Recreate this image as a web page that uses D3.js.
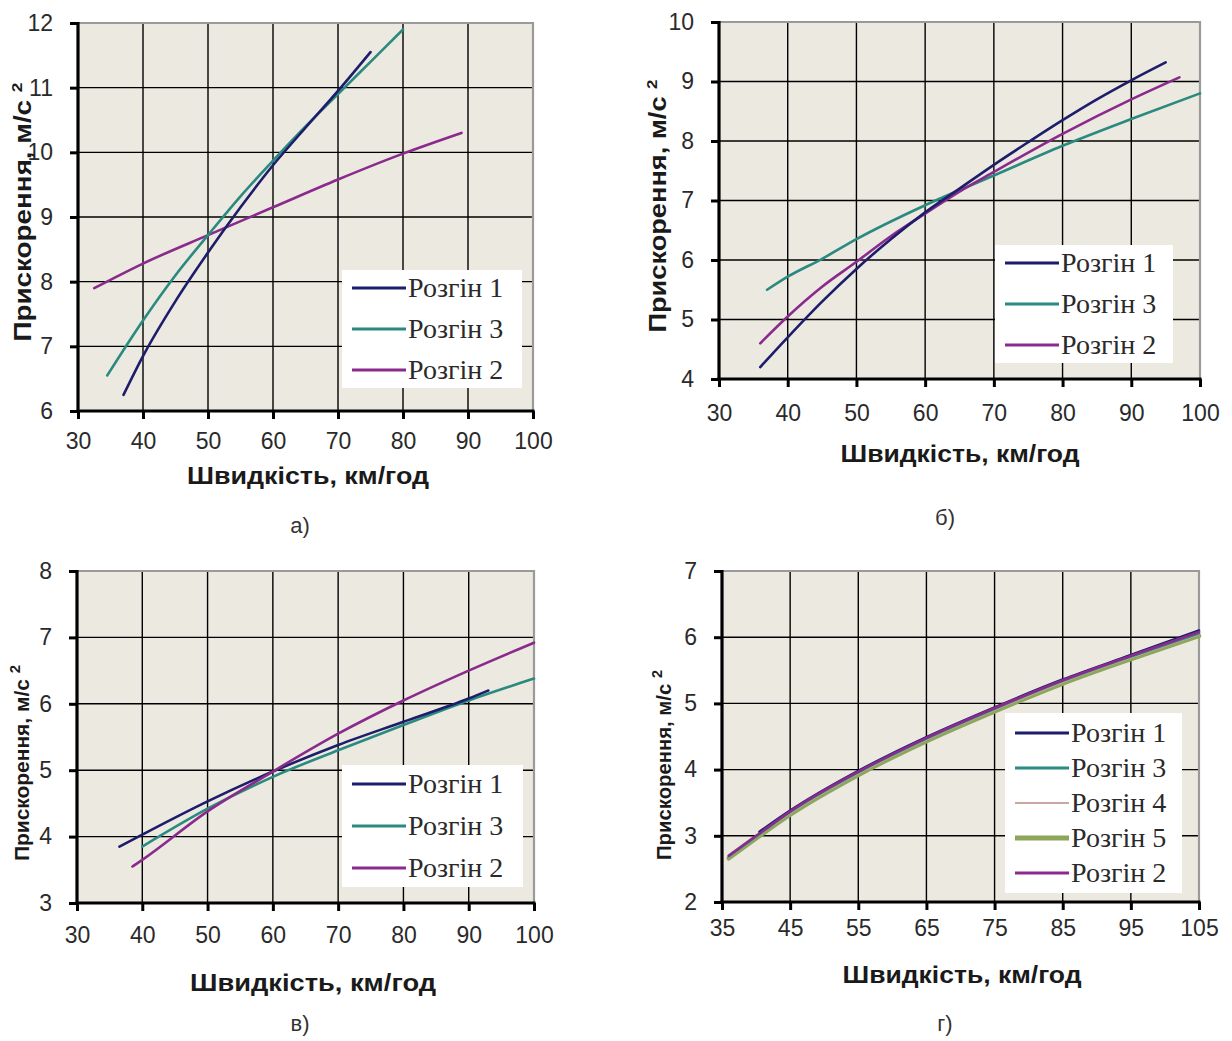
<!DOCTYPE html>
<html>
<head>
<meta charset="utf-8">
<script src="https://cdn.jsdelivr.net/npm/d3@7"></script>
<style>
body { margin: 0; background: #fff; }
svg { display: block; }
.tick text { font-family: "Liberation Sans", Arial, sans-serif; fill: #2a2a2a; }
.axis path, .axis line { stroke: #000; }
.grid line { stroke: #000; stroke-width: 1.4px; }
.title { font-family: "Liberation Sans", Arial, sans-serif; font-weight: bold; fill: #1a1a1a; }
.legend text { font-family: "Liberation Serif", "Times New Roman", serif; fill: #2a2a2a; }
.caption { font-family: "Liberation Sans", Arial, sans-serif; fill: #333; }
</style>
</head>
<body>
<svg width="1232" height="1041"></svg>
<script>

// ---- data ----
var names = ["Розгін 1", "Розгін 3", "Розгін 2", "Розгін 4", "Розгін 5"];
var xLabel = "Швидкість, км/год";
var yLabel = "Прискорення, м/с";
var captions = ["а)", "б)", "в)", "г)"];

// panel а
var aSpeed1 = [37, 40, 45, 50, 55, 60, 65, 70, 75];
var aAccel1 = [6.25, 6.85, 7.7, 8.45, 9.15, 9.8, 10.38, 10.95, 11.55];
var aSpeed3 = [34.5, 40, 45, 50, 55, 60, 65, 70, 75, 80];
var aAccel3 = [6.55, 7.4, 8.1, 8.72, 9.32, 9.87, 10.4, 10.9, 11.4, 11.9];
var aSpeed2 = [32.5, 40, 50, 60, 70, 80, 89];
var aAccel2 = [7.9, 8.28, 8.72, 9.15, 9.58, 9.98, 10.3];

// panel б
var bSpeed1 = [36, 40, 45, 50, 55, 60, 65, 70, 75, 80, 85, 90, 95];
var bAccel1 = [4.2, 4.7, 5.3, 5.85, 6.35, 6.8, 7.2, 7.6, 7.98, 8.35, 8.7, 9.02, 9.32];
var bSpeed3 = [37, 40, 45, 50, 60, 70, 80, 90, 100];
var bAccel3 = [5.5, 5.72, 6.02, 6.35, 6.92, 7.42, 7.92, 8.37, 8.8];
var bSpeed2 = [36, 40, 45, 50, 55, 60, 65, 70, 80, 90, 97];
var bAccel2 = [4.6, 5.05, 5.55, 5.97, 6.4, 6.78, 7.15, 7.48, 8.12, 8.7, 9.07];

// panel в
var cSpeed1 = [36.5, 40, 50, 60, 70, 80, 90, 93];
var cAccel1 = [3.85, 4.03, 4.53, 4.98, 5.38, 5.73, 6.08, 6.2];
var cSpeed3 = [40, 50, 60, 70, 80, 90, 100];
var cAccel3 = [3.85, 4.42, 4.9, 5.3, 5.68, 6.05, 6.38];
var cSpeed2 = [38.5, 40, 50, 60, 70, 80, 90, 100];
var cAccel2 = [3.55, 3.65, 4.38, 4.98, 5.55, 6.05, 6.5, 6.92];

// panel г
var dSpeed = [36, 40, 45, 55, 65, 75, 85, 95, 105];
var dAccel5 = [2.66, 2.96, 3.32, 3.92, 4.43, 4.88, 5.3, 5.67, 6.02];
var dAccel4 = [2.68, 2.98, 3.34, 3.94, 4.45, 4.9, 5.32, 5.69, 6.04];
var dAccel3 = [2.69, 2.99, 3.36, 3.96, 4.47, 4.92, 5.34, 5.71, 6.06];
var dAccel2 = [2.7, 3.0, 3.37, 3.97, 4.48, 4.93, 5.35, 5.72, 6.08];
var dSpeed1 = [40.5, 45, 55, 65, 75, 85, 95, 105];
var dAccel1 = [3.06, 3.38, 3.98, 4.49, 4.94, 5.36, 5.73, 6.1];

var colors = { "Розгін 1": "#1d1d6b", "Розгін 3": "#2b8a80", "Розгін 2": "#8a2a8c",
               "Розгін 4": "#c9a6a2", "Розгін 5": "#8da65c" };
var widths = { "Розгін 1": 2.6, "Розгін 3": 2.6, "Розгін 2": 2.6, "Розгін 4": 1.6, "Розгін 5": 4.5 };

function zip(xs, ys) { return xs.map(function(x, i) { return [x, ys[i]]; }); }

var panels = [
  { box: [78, 23, 533, 411], xDom: [30, 100], xStep: 10, yDom: [6, 12], xPad: 14,
    legend: [342, 270, 180, 118], legendStep: 41, legendOrder: [0, 1, 2],
    xTitle: [308, 484, 242], yTitle: [31, 212, 259, 24], caption: [300, 533],
    series: [[names[2], zip(aSpeed2, aAccel2)], [names[1], zip(aSpeed3, aAccel3)], [names[0], zip(aSpeed1, aAccel1)]] },
  { box: [719, 22, 1200, 379], xDom: [30, 100], xStep: 10, yDom: [4, 10], xPad: 18,
    legend: [995, 245, 178, 118], legendStep: 41, legendOrder: [0, 1, 2],
    xTitle: [960, 462, 239], yTitle: [666, 206, 253, 24], caption: [945, 525],
    series: [[names[1], zip(bSpeed3, bAccel3)], [names[2], zip(bSpeed2, bAccel2)], [names[0], zip(bSpeed1, bAccel1)]] },
  { box: [77, 571, 534, 903], xDom: [30, 100], xStep: 10, yDom: [3, 8], xPad: 16,
    legend: [342, 765, 181, 122], legendStep: 42, legendOrder: [0, 1, 2],
    xTitle: [313, 991, 246], yTitle: [29, 763, 196, 21], caption: [300, 1031],
    series: [[names[1], zip(cSpeed3, cAccel3)], [names[0], zip(cSpeed1, cAccel1)], [names[2], zip(cSpeed2, cAccel2)]] },
  { box: [722, 571, 1199, 902], xDom: [35, 105], xStep: 10, yDom: [2, 7], xPad: 10,
    legend: [1005, 713, 177, 180], legendStep: 35, legendOrder: [0, 1, 3, 4, 2],
    xTitle: [962, 983, 239], yTitle: [671, 765, 190, 21], caption: [945, 1031],
    series: [[names[4], zip(dSpeed, dAccel5)], [names[3], zip(dSpeed, dAccel4)], [names[1], zip(dSpeed, dAccel3)],
             [names[0], zip(dSpeed1, dAccel1)], [names[2], zip(dSpeed, dAccel2)]] }
];

var svg = d3.select("svg");

panels.forEach(function(p, k) {
  var L = p.box[0], T = p.box[1], R = p.box[2], B = p.box[3];
  var x = d3.scaleLinear().domain(p.xDom).range([L, R]);
  var y = d3.scaleLinear().domain(p.yDom).range([B, T]);
  var xt = d3.range(p.xDom[0], p.xDom[1] + 0.1, p.xStep);
  var yt = d3.range(p.yDom[0], p.yDom[1] + 0.1, 1);

  var g = svg.append("g");

  g.append("rect").attr("x", L).attr("y", T).attr("width", R - L).attr("height", B - T)
    .attr("fill", "#ece9e0");

  var grid = g.append("g").attr("class", "grid");
  grid.selectAll(".v").data(xt.slice(1, -1)).enter().append("line")
    .attr("x1", function(d) { return x(d); }).attr("x2", function(d) { return x(d); })
    .attr("y1", T).attr("y2", B);
  grid.selectAll(".h").data(yt.slice(1, -1)).enter().append("line")
    .attr("y1", function(d) { return y(d); }).attr("y2", function(d) { return y(d); })
    .attr("x1", L).attr("x2", R);

  // top + right frame, grey
  g.append("path").attr("d", "M" + L + "," + T + "H" + R + "V" + B)
    .attr("fill", "none").attr("stroke", "#9a9a9a").attr("stroke-width", 2.2);

  // series
  var line = d3.line().x(function(d) { return x(d[0]); }).y(function(d) { return y(d[1]); })
    .curve(d3.curveMonotoneX);
  p.series.forEach(function(s) {
    g.append("path").attr("d", line(s[1])).attr("fill", "none")
      .attr("stroke", colors[s[0]]).attr("stroke-width", widths[s[0]])
      .attr("stroke-linecap", "round");
  });

  // axes
  var xa = g.append("g").attr("class", "axis").attr("transform", "translate(0," + B + ")")
    .call(d3.axisBottom(x).tickValues(xt).tickSize(8).tickSizeOuter(0).tickPadding(p.xPad).tickFormat(d3.format("d")));
  var ya = g.append("g").attr("class", "axis").attr("transform", "translate(" + L + ",0)")
    .call(d3.axisLeft(y).tickValues(yt).tickSize(8).tickSizeOuter(0).tickPadding(17).tickFormat(d3.format("d")));
  [xa, ya].forEach(function(a) {
    a.select(".domain").attr("stroke-width", 3.2);
    a.selectAll(".tick line").attr("stroke-width", 3);
    a.selectAll(".tick text").style("font-size", "23px");
  });
  ya.select(".domain").attr("d", "M0," + (B + 1.5) + "V" + (T - 1));
  xa.select(".domain").attr("d", "M" + (L - 1.5) + ",0H" + (R + 1.5));

  // legend
  var lg = g.append("g").attr("class", "legend");
  lg.append("rect").attr("x", p.legend[0]).attr("y", p.legend[1])
    .attr("width", p.legend[2]).attr("height", p.legend[3]).attr("fill", "#fff");
  var lx = p.legend[0] + 10;
  var ly0 = p.legend[1] + (p.legend[3] - p.legendStep * (p.legendOrder.length - 1)) / 2;
  p.legendOrder.forEach(function(ni, i) {
    var nm = names[ni], yy = ly0 + i * p.legendStep;
    lg.append("line").attr("x1", lx).attr("x2", lx + 54).attr("y1", yy).attr("y2", yy)
      .attr("stroke", colors[nm]).attr("stroke-width", widths[nm] + 0.6);
    lg.append("text").attr("x", lx + 56).attr("y", yy + 9).style("font-size", "28px").text(nm);
  });

  // titles
  g.append("text").attr("class", "title").attr("x", p.xTitle[0]).attr("y", p.xTitle[1])
    .attr("text-anchor", "middle").style("font-size", "24px")
    .attr("textLength", p.xTitle[2]).attr("lengthAdjust", "spacingAndGlyphs").text(xLabel);
  var yt2 = g.append("text").attr("class", "title")
    .attr("transform", "translate(" + p.yTitle[0] + "," + p.yTitle[1] + ") rotate(-90)")
    .attr("text-anchor", "middle").style("font-size", p.yTitle[3] + "px")
    .attr("textLength", p.yTitle[2]).attr("lengthAdjust", "spacingAndGlyphs");
  yt2.append("tspan").text(yLabel + " ");
  yt2.append("tspan").attr("dy", -9).style("font-size", "15px").text("2");

  svg.append("text").attr("class", "caption").attr("x", p.caption[0]).attr("y", p.caption[1])
    .attr("text-anchor", "middle").style("font-size", "22px").text(captions[k]);
});

</script>
</body>
</html>
